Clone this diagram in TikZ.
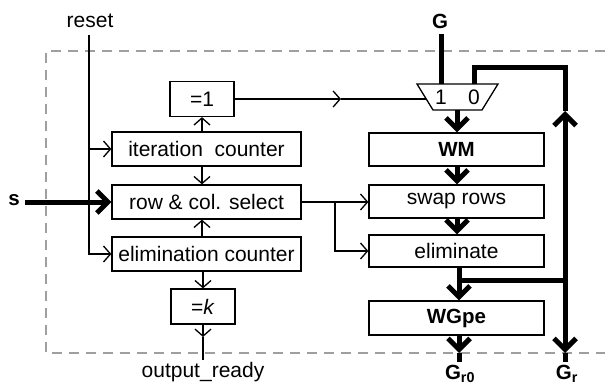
\documentclass[tikz,border=0pt]{standalone}
\usepackage{fontspec}
\setmainfont{Liberation Sans}
\usetikzlibrary{arrows.meta}
\begin{document}
\begin{tikzpicture}[x=1pt,y=-1pt,
  thinline/.style={line width=1.3pt},
  thickline/.style={line width=5pt, line join=miter},
  tarrow/.style={thinline, -{Straight Barb[length=7pt,width=16pt]}},
  Tarrow/.style={thickline, -{Straight Barb[length=11pt,width=22pt]}},
  box/.style={draw, line width=1.3pt, inner sep=0pt, font=\fontsize{21}{24}\selectfont},
  bbox/.style={box, font=\fontsize{20.5}{24}\selectfont\bfseries, minimum width=175pt},
  lbl/.style={inner sep=0pt, font=\fontsize{21}{24}\selectfont},
  blbl/.style={inner sep=0pt, font=\fontsize{20.5}{24}\selectfont\bfseries},
  dashbox/.style={draw=gray!75, line width=1.3pt, dash pattern=on 10pt off 7pt}
]
\useasboundingbox (0,0) rectangle (605,385);

% frame
\coordinate (fTR) at (605,51);
\coordinate (fTL) at (46,51);
\coordinate (fBL) at (46,353);
\coordinate (fBR) at (605,353);
\draw[dashbox] (fTR) -- (fTL) -- (fBL) -- (fBR);

% left column
\node[box, minimum width=64pt, minimum height=35pt] (eq1) at (202,99) {=1};
\node[box, minimum width=189pt, minimum height=34pt] (iter) at (206.5,149) {iteration\ \ counter};
\node[box, minimum width=189pt, minimum height=34pt] (rcs) at (206.5,202) {row \& col. select};
\node[box, minimum width=189pt, minimum height=34pt] (elim) at (206.5,254) {elimination counter};
\node[box, minimum width=64pt, minimum height=35pt] (eqk) at (203,306.5) {=\textit{k}};

\draw[tarrow] (iter.north -| eq1.south) -- (eq1.south);
\draw[tarrow] (iter.south -| eq1.south) -- (rcs.north -| eq1.south);
\draw[tarrow] (elim.north -| eq1.south) -- (rcs.south -| eq1.south);
\draw[tarrow] (elim.south -| eqk.north) -- (eqk.north);

\coordinate (outtip) at (203,337);
\coordinate (outend) at (203,360);
\draw[tarrow] (eqk.south) -- (outtip);
\draw[thinline] (outtip) -- (outend);
\node[lbl] (outlbl) at (203,372) {output\_ready};

% reset
\node[lbl] (reset) at (90,21) {reset};
\coordinate (rtop) at (89,35);
\draw[tarrow] (rtop) |- (elim.west);
\draw[tarrow] (rtop |- iter.west) -- (iter.west);

% s input
\node[blbl] (s) at (14,200) {s};
\coordinate (sstart) at (25,202);
\draw[Tarrow] (sstart) -- (rcs.west);

% right column
\node[bbox, minimum height=33pt] (wm) at (456.5,149.5) {WM};
\node[box, minimum width=175pt, minimum height=33pt] (swap) at (456.5,201.5) {swap rows};
\node[box, minimum width=175pt, minimum height=32pt] (elim2) at (456.5,251) {eliminate};
\node[bbox, minimum height=34pt] (wgpe) at (456.5,318) {WGpe};

% mux
\coordinate (mTL) at (417,84);
\coordinate (mTR) at (498,84);
\coordinate (mBR) at (482,110);
\coordinate (mBL) at (433,110);
\draw[thinline, line join=miter] (mTL) -- (mTR) -- (mBR) -- (mBL) -- cycle;
\node[lbl] (m1) at (441,97) {1};
\node[lbl] (m0) at (474,97) {0};
\coordinate (min1) at (441,84);
\coordinate (min0) at (474,84);
\coordinate (mout) at (457,110);
\coordinate (msel) at (426,99);

% select line from =1 to mux
\coordinate (selmid) at (341,99);
\draw[tarrow] (eq1.east) -- (selmid);
\draw[thinline] (selmid) -- (msel);

% row & col select to swap / eliminate
\coordinate (br) at (335,202);
\draw[tarrow] (rcs.east) -- (rcs.east -| swap.west);
\draw[tarrow] (br) |- (elim2.west);

% G input
\node[blbl] (G) at (440,21) {G};
\coordinate (Gtop) at (441,34);
\draw[thickline] (Gtop) -- (min1);

% data path
\draw[Tarrow] (mout) -- (mout |- wm.north);
\draw[Tarrow] (wm.south -| mout) -- (swap.north -| mout);
\draw[Tarrow] (swap.south -| mout) -- (elim2.north -| mout);

\coordinate (j1) at (459,280);
\coordinate (j2) at (565,280);
\draw[Tarrow] (elim2.south -| j1) -- (wgpe.north -| j1);
\draw[thickline] (j1) -- (j2);

% feedback
\coordinate (upTip) at (565,111);
\coordinate (fbTop) at (565,68);
\draw[Tarrow] (j2) -- (upTip);
\draw[thickline] (upTip) -- (fbTop) -| (min0);

% outputs
\coordinate (grTip) at (565,353);
\coordinate (grEnd) at (565,362);
\draw[Tarrow] (j2) -- (grTip);
\draw[thickline] (grTip) -- (grEnd);

\coordinate (g0Tip) at (459,353);
\coordinate (g0End) at (459,362);
\draw[Tarrow] (wgpe.south -| j1) -- (g0Tip);
\draw[thickline] (g0Tip) -- (g0End);

\node[blbl, anchor=base] (gr0) at (460,379.5) {G\textsubscript{r0}};
\node[blbl, anchor=base] (gr) at (567,379.5) {G\textsubscript{r}};
\end{tikzpicture}
\end{document}
